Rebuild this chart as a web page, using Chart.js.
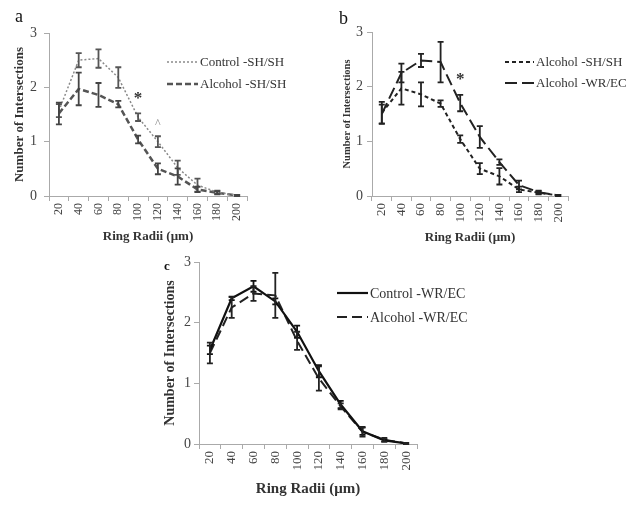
<!DOCTYPE html>
<html>
<head>
<meta charset="utf-8">
<script src="https://cdn.jsdelivr.net/npm/chart.js@4.4.0/dist/chart.umd.min.js"></script>
<style>
  body { margin: 0; background: #fff; }
  #wrap { position: relative; width: 632px; height: 508px; overflow: hidden; }
  canvas { position: absolute; }
</style>
</head>
<body>
<div id="wrap">
  <canvas id="panelA" width="310" height="250" style="left:0;top:0"></canvas>
  <canvas id="panelB" width="322" height="250" style="left:310px;top:0"></canvas>
  <canvas id="panelC" width="400" height="258" style="left:150px;top:250px"></canvas>
</div>
<script>
// ring radii (um) on the x axis
const radii = ['20', '40', '60', '80', '100', '120', '140', '160', '180', '200'];
const yTicks = [0, 1, 2, 3];

// mean number of intersections and error (half bar height)
const controlSH    = [1.57, 2.50, 2.53, 2.18, 1.45, 1.00, 0.52, 0.20, 0.07, 0.01];
const controlSHErr = [0.12, 0.13, 0.17, 0.19, 0.07, 0.10, 0.13, 0.12, 0.03, 0.01];
const alcoholSH    = [1.52, 1.97, 1.86, 1.69, 1.04, 0.50, 0.36, 0.12, 0.06, 0.01];
const alcoholSHErr = [0.20, 0.30, 0.22, 0.06, 0.07, 0.10, 0.15, 0.05, 0.03, 0.01];
const alcoholWR    = [1.50, 2.25, 2.48, 2.45, 1.70, 1.08, 0.62, 0.20, 0.07, 0.01];
const alcoholWRErr = [0.17, 0.17, 0.12, 0.37, 0.15, 0.20, 0.05, 0.08, 0.03, 0.01];
const controlWR    = [1.55, 2.40, 2.60, 2.35, 1.85, 1.20, 0.65, 0.21, 0.06, 0.01];
const controlWRErr = [0.07, 0.03, 0.09, 0.05, 0.10, 0.10, 0.06, 0.06, 0.02, 0.01];

const SERIF = '"Liberation Serif", "Times New Roman", serif';

// draws error bars with caps for datasets that carry an `errors` array
const errorBars = {
  id: 'errorBars',
  afterDatasetsDraw(chart) {
    const { ctx, scales: { x, y } } = chart;
    chart.data.datasets.forEach(ds => {
      if (!ds.errors) return;
      ctx.save();
      ctx.strokeStyle = ds.errorColor || ds.borderColor;
      ctx.lineWidth = 1.8;
      ctx.setLineDash([]);
      ds.data.forEach((v, j) => {
        const px = x.getPixelForValue(j);
        const t = y.getPixelForValue(v + ds.errors[j]);
        const b = y.getPixelForValue(v - ds.errors[j]);
        ctx.beginPath();
        ctx.moveTo(px, t); ctx.lineTo(px, b);
        ctx.moveTo(px - 3, t); ctx.lineTo(px + 3, t);
        ctx.moveTo(px - 3, b); ctx.lineTo(px + 3, b);
        ctx.stroke();
      });
      ctx.restore();
    });
  }
};

// panel letter, legend and significance marks
function decorations(cfg) {
  return {
    id: 'deco',
    afterDraw(chart) {
      const { ctx, scales: { x, y } } = chart;
      ctx.save();
      ctx.textBaseline = 'middle';
      ctx.fillStyle = '#111';
      ctx.font = cfg.tagFont;
      ctx.fillText(cfg.tag, cfg.tagX, cfg.tagY);

      chart.data.datasets.forEach((ds, i) => {
        const ly = cfg.legY + i * cfg.legGap;
        ctx.strokeStyle = ds.borderColor;
        ctx.lineWidth = ds.borderWidth;
        ctx.setLineDash(ds.borderDash || []);
        ctx.beginPath();
        ctx.moveTo(cfg.legX, ly);
        ctx.lineTo(cfg.legX + cfg.legLen, ly);
        ctx.stroke();
        ctx.setLineDash([]);
        ctx.fillStyle = '#333';
        ctx.font = cfg.legFont;
        ctx.fillText(ds.label, cfg.legX + cfg.legLen + 2, ly + 1);
      });

      (cfg.marks || []).forEach(m => {
        ctx.fillStyle = m.color;
        ctx.font = m.font;
        ctx.textAlign = 'center';
        ctx.fillText(m.text, x.getPixelForValue(m.index), y.getPixelForValue(m.value));
      });
      ctx.restore();
    }
  };
}

function makePanel(id, p) {
  return new Chart(id, {
    type: 'line',
    data: { labels: radii, datasets: p.datasets },
    options: {
      responsive: false,
      animation: false,
      layout: { padding: p.padding },
      elements: { point: { radius: 0 }, line: { tension: 0, fill: false } },
      plugins: { legend: { display: false }, tooltip: { enabled: false } },
      scales: {
        x: {
          offset: true,
          grid: { offset: true, drawOnChartArea: false, tickLength: 5, color: '#aaa' },
          border: { color: '#aaa' },
          ticks: { minRotation: 90, maxRotation: 90, autoSkip: false, padding: 2,
                   color: '#444', font: { family: SERIF, size: p.xTickSize } },
          title: { display: true, text: 'Ring Radii (μm)', color: '#333',
                   font: { family: SERIF, size: p.xTitleSize, weight: 'bold' },
                   padding: { top: 0, bottom: p.xTitlePad } },
          afterFit: s => { s.height = p.xHeight; }
        },
        y: {
          min: 0, max: 3,
          afterBuildTicks: s => { s.ticks = yTicks.map(v => ({ value: v })); },
          grid: { drawOnChartArea: false, tickLength: 5, color: '#aaa' },
          border: { color: '#aaa' },
          ticks: { padding: p.yTickPad, color: '#444', font: { family: SERIF, size: p.yTickSize } },
          title: { display: true, text: 'Number of Intersections', color: '#333',
                   font: { family: SERIF, size: p.yTitleSize, weight: 'bold' },
                   padding: { top: p.yTitlePad, bottom: 0 } },
          afterFit: s => { s.width = p.yWidth; }
        }
      }
    },
    plugins: [errorBars, decorations(p.deco)]
  });
}

makePanel('panelA', {
  padding: { left: 0, right: 63, top: 33, bottom: 0 },
  xHeight: 54, yWidth: 49,
  xTickSize: 12, yTickSize: 14, xTitleSize: 13, yTitleSize: 13,
  xTitlePad: 6, yTitlePad: 12, yTickPad: 7,
  datasets: [
    { label: 'Control -SH/SH', data: controlSH, errors: controlSHErr,
      borderColor: '#8a8a8a', borderWidth: 1.5, borderDash: [2, 2], errorColor: '#555' },
    { label: 'Alcohol -SH/SH', data: alcoholSH, errors: alcoholSHErr,
      borderColor: '#555', borderWidth: 2.5, borderDash: [6, 3], errorColor: '#444' }
  ],
  deco: {
    tag: 'a', tagFont: '18px ' + SERIF, tagX: 15, tagY: 17,
    legX: 167, legY: 62, legGap: 22, legLen: 31, legFont: '13px ' + SERIF,
    marks: [
      { index: 4, value: 1.80, text: '*', font: 'bold 17px ' + SERIF, color: '#333' },
      { index: 5, value: 1.32, text: '^', font: '12px ' + SERIF, color: '#888' }
    ]
  }
});

makePanel('panelB', {
  padding: { left: 0, right: 64, top: 32, bottom: 0 },
  xHeight: 54, yWidth: 62,
  xTickSize: 13, yTickSize: 14, xTitleSize: 13, yTitleSize: 10.5,
  xTitlePad: 5, yTitlePad: 31, yTickPad: 4,
  datasets: [
    { label: 'Alcohol -SH/SH', data: alcoholSH, errors: alcoholSHErr,
      borderColor: '#222', borderWidth: 2, borderDash: [4, 3] },
    { label: 'Alcohol -WR/EC', data: alcoholWR, errors: alcoholWRErr,
      borderColor: '#222', borderWidth: 2, borderDash: [12, 5] }
  ],
  deco: {
    tag: 'b', tagFont: '18px ' + SERIF, tagX: 29, tagY: 19,
    legX: 195, legY: 62, legGap: 21, legLen: 29, legFont: '13px ' + SERIF,
    marks: [
      { index: 4, value: 2.12, text: '*', font: 'bold 17px ' + SERIF, color: '#333' }
    ]
  }
});

makePanel('panelC', {
  padding: { left: 0, right: 133, top: 12, bottom: 0 },
  xHeight: 64, yWidth: 49,
  xTickSize: 13, yTickSize: 14, xTitleSize: 15, yTitleSize: 14,
  xTitlePad: 10, yTitlePad: 12, yTickPad: 3,
  datasets: [
    { label: 'Control -WR/EC', data: controlWR, errors: controlWRErr,
      borderColor: '#111', borderWidth: 2.2 },
    { label: 'Alcohol -WR/EC', data: alcoholWR, errors: alcoholWRErr,
      borderColor: '#222', borderWidth: 2, borderDash: [10, 5] }
  ],
  deco: {
    tag: 'c', tagFont: 'bold 13px ' + SERIF, tagX: 14, tagY: 17,
    legX: 187, legY: 43, legGap: 24, legLen: 31, legFont: '14px ' + SERIF,
    marks: []
  }
});
</script>
</body>
</html>
